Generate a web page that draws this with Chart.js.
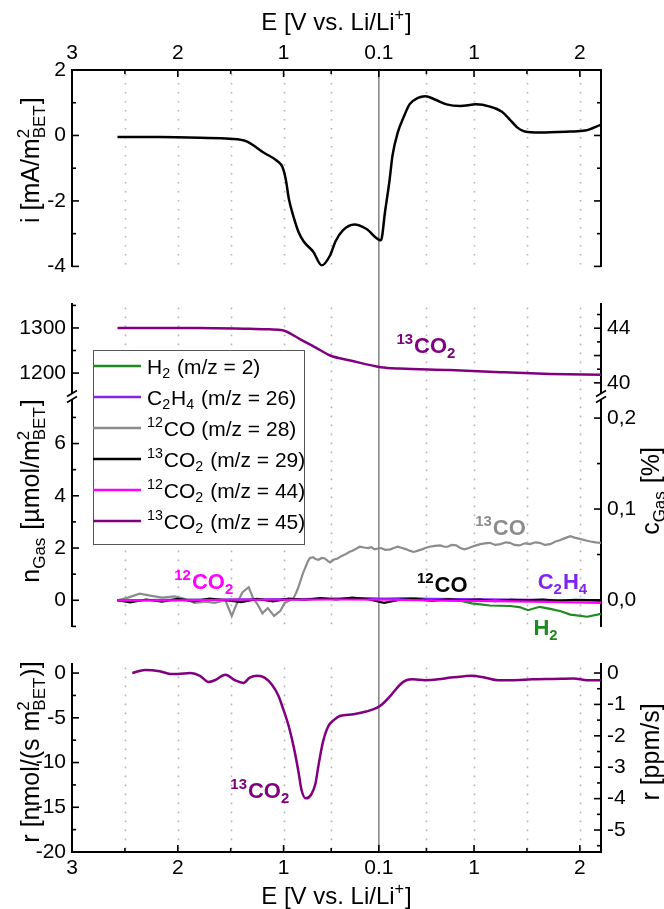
<!DOCTYPE html>
<html><head><meta charset="utf-8">
<script src="https://cdn.jsdelivr.net/npm/chart.js@4.4.1/dist/chart.umd.min.js"></script>
<style>
html,body{margin:0;padding:0;background:#fff;}
#wrap{position:relative;width:664px;height:909px;overflow:hidden;background:#fff;}
canvas{position:absolute;left:0;}
</style></head><body>
<div id="wrap">
<canvas id="c1" width="664" height="285" style="top:0px"></canvas>
<canvas id="c2" width="664" height="360" style="top:285px"></canvas>
<canvas id="c3" width="664" height="264" style="top:645px"></canvas>
</div>
<script>
// ---------------- DATA ----------------
// x axis: sweep coordinate (3 V -> 0.1 V -> 2.2 V), labelled with potential
const xTickPos = [0, 1, 2, 2.9, 3.8, 4.8];
const xTickLabels = ['3', '2', '1', '0.1', '1', '2'];
const xMinorPos = [0.5, 1.5, 2.45, 3.35, 4.3];
const xGridPos = [0.5, 1, 1.5, 2, 2.45, 3.35, 3.8, 4.3, 4.8];
const xVertex = 2.9;

// top panel: current density i [mA/m2]
const currentX = [0.43,0.83,1.21,1.49,1.65,1.81,1.94,1.99,2.02,2.05,2.10,2.14,2.19,2.28,2.36,2.44,2.49,2.56,2.67,2.78,2.92,2.96,3.00,3.03,3.08,3.14,3.19,3.27,3.34,3.43,3.54,3.67,3.82,3.95,4.06,4.14,4.21,4.28,4.42,4.71,4.85,5.00];
const currentY = [-0.05,-0.05,-0.07,-0.1,-0.18,-0.52,-0.78,-0.97,-1.33,-1.94,-2.55,-2.94,-3.24,-3.55,-3.97,-3.66,-3.24,-2.9,-2.72,-2.85,-3.2,-2.3,-1.4,-0.6,0.1,0.6,0.95,1.15,1.2,1.1,0.95,0.9,0.95,0.88,0.73,0.48,0.24,0.12,0.09,0.12,0.15,0.33];

// middle panel, upper part: 13CO2 (m/z 45) [umol/m2]
const co2m45X = [0.43,0.83,1.21,1.68,1.87,1.99,2.15,2.30,2.44,2.63,2.92,3.10,3.57,4.05,4.52,5.00];
const co2m45Y = [1300,1300,1300,1298,1297,1295,1276,1257,1239,1228,1213,1210,1207,1202,1198,1196];

// middle panel, lower part [umol/m2]
const co28X = [0.43,0.53,0.64,0.74,0.85,0.97,1.07,1.16,1.26,1.35,1.45,1.51,1.55,1.61,1.67,1.71,1.76,1.80,1.85,1.91,1.97,2.01,2.06,2.09,2.12,2.14,2.16,2.18,2.21,2.23,2.25,2.28,2.30,2.33,2.36,2.39,2.42,2.44,2.47,2.51,2.55,2.58,2.62,2.65,2.69,2.72,2.76,2.80,2.83,2.86,2.89,2.92,2.96,3.01,3.04,3.08,3.12,3.16,3.19,3.23,3.27,3.31,3.34,3.38,3.43,3.48,3.52,3.55,3.59,3.63,3.67,3.71,3.75,3.78,3.82,3.86,3.90,3.95,4.00,4.05,4.10,4.14,4.18,4.23,4.28,4.33,4.38,4.42,4.47,4.52,4.57,4.61,4.66,4.71,4.75,4.80,4.85,4.90,4.95,5.00];
const co28Y = [0,0.1,0.25,0.18,0.1,0.15,0.05,-0.1,-0.05,-0.1,0.0,-0.6,-0.2,0.3,0.5,0.1,-0.2,-0.5,-0.3,-0.6,-0.4,-0.1,0.0,0.05,0.3,0.5,0.75,1.0,1.3,1.5,1.62,1.65,1.58,1.55,1.62,1.6,1.5,1.45,1.55,1.6,1.7,1.75,1.85,1.9,1.98,2.05,2.02,2.0,2.03,1.95,1.98,2.0,1.93,1.95,2.0,2.05,2.0,1.95,1.9,1.85,1.9,1.95,2.0,2.05,2.08,2.1,2.05,2.05,2.12,2.1,2.0,1.95,2.0,2.05,2.1,2.15,2.18,2.2,2.12,2.15,2.22,2.2,2.12,2.1,2.18,2.15,2.22,2.2,2.12,2.15,2.25,2.3,2.38,2.45,2.4,2.35,2.3,2.25,2.22,2.2];
const h2X = [0.43,0.9,1.4,1.9,2.4,2.75,2.95,3.2,3.45,3.67,3.78,3.95,4.14,4.23,4.31,4.42,4.52,4.62,4.71,4.87,5.00];
const h2Y = [0,0.01,0.02,0.03,0.05,0.08,0.05,0.08,0.03,-0.02,-0.12,-0.2,-0.22,-0.26,-0.38,-0.25,-0.33,-0.42,-0.55,-0.63,-0.52];
const c2h4X = [0.43,0.9,1.4,1.9,2.4,2.9,3.4,3.9,4.4,4.8,5.00];
const c2h4Y = [0,0.02,0.03,0.04,0.05,0.05,0.05,0.04,0.02,0.0,-0.02];
const co2m29X = [0.43,0.55,0.7,0.85,1.0,1.15,1.3,1.45,1.6,1.75,1.9,2.05,2.2,2.35,2.5,2.65,2.8,2.95,3.1,3.25,3.4,3.55,3.7,3.85,4.0,4.15,4.3,4.45,4.6,4.75,4.9,5.0];
const co2m29Y = [0,-0.08,0.03,-0.05,0.05,-0.04,0.06,0,-0.07,0.05,-0.04,0.06,0.02,0.08,0.03,0.1,0.04,-0.1,0.02,0.05,-0.02,0.04,0,0.03,-0.03,0.02,0,0.03,-0.02,0.02,0.01,0];
const co2m44X = [0.43,1.0,1.5,2.0,2.5,3.0,3.5,4.0,4.5,5.0];
const co2m44Y = [0,0,0.02,0.02,0.03,0.02,-0.01,-0.03,-0.06,-0.1];

// bottom panel: rate r [nmol/(s m2)]
const rateX = [0.57,0.69,0.83,0.93,1.00,1.12,1.21,1.29,1.35,1.45,1.54,1.62,1.68,1.75,1.82,1.89,1.95,1.99,2.05,2.10,2.14,2.17,2.21,2.26,2.30,2.33,2.37,2.42,2.48,2.53,2.66,2.78,2.88,2.94,3.02,3.10,3.16,3.22,3.34,3.46,3.58,3.71,3.78,3.90,4.03,4.15,4.35,4.55,4.74,4.87,5.00];
const rateY = [0.0,0.35,0.2,-0.1,-0.1,0.0,-0.3,-1.0,-0.8,-0.2,-0.8,-1.1,-0.5,-0.3,-0.5,-1.3,-2.5,-3.8,-6.0,-8.5,-11.0,-13.1,-14.0,-13.6,-12.4,-10.3,-7.8,-6.0,-5.2,-4.8,-4.6,-4.3,-3.9,-3.4,-2.4,-1.3,-0.8,-0.7,-0.8,-0.7,-0.5,-0.35,-0.3,-0.5,-0.8,-0.8,-0.7,-0.65,-0.6,-0.8,-0.8];

// axis ticks
const iTicks = [-4,-2,0,2], iMinor = [-3,-1,1];
const nHiTicks = [1200,1300], nHiMinor = [1250,1350];
const cHiTicks = [40,42,44], cHiMinor = [41,43,45];
const nLoTicks = [0,2,4,6], nLoMinor = [-1,1,3,5,7];
const cLoTicks = [0,0.1,0.2], cLoMinor = [0.05,0.15];
const rTicks = [0,-5,-10,-15,-20], rMinor = [-2.5,-7.5,-12.5,-17.5];
const ppmTicks = [0,-1,-2,-3,-4,-5], ppmMinor = [-0.5,-1.5,-2.5,-3.5,-4.5,-5.5];

const seriesNames = ['H_{2} (m/z = 2)','C_{2}H_{4} (m/z = 26)','^{12}CO (m/z = 28)','^{13}CO_{2} (m/z = 29)','^{12}CO_{2} (m/z = 44)','^{13}CO_{2} (m/z = 45)'];
const seriesColors = ['#1f8a1f','#8024f0','#8c8c8c','#000000','#ff00ff','#800080'];

// ---------------- HELPERS ----------------
const FONT = "'Liberation Sans', Arial, sans-serif";
const NARROW = "'Liberation Sans Narrow', 'Liberation Sans', Arial, sans-serif";
const pts = (xs, ys) => xs.map((x, i) => ({x, y: ys[i]}));

function parseRich(str) {
  const toks = []; let i = 0, buf = '';
  while (i < str.length) {
    const c = str[i];
    if ((c === '^' || c === '_') && str[i+1] === '{') {
      if (buf) { toks.push({k:'n', t:buf}); buf=''; }
      const end = str.indexOf('}', i);
      toks.push({k: c === '^' ? 'sup' : 'sub', t: str.slice(i+2, end)});
      i = end + 1;
    } else { buf += c; i++; }
  }
  if (buf) toks.push({k:'n', t:buf});
  const out = [];
  for (let j = 0; j < toks.length; j++) {
    if (toks[j].k === 'sup' && toks[j+1] && toks[j+1].k === 'sub') {
      out.push({k:'stack', a:toks[j].t, b:toks[j+1].t}); j++;
    } else out.push(toks[j]);
  }
  return out;
}
function richWidth(ctx, toks, size, weight, fam) {
  let w = 0;
  for (const t of toks) {
    if (t.k === 'n') { ctx.font = `${weight} ${size}px ${fam}`; w += ctx.measureText(t.t).width; }
    else { ctx.font = `${weight} ${size*0.68}px ${fam}`;
      if (t.k === 'stack') w += Math.max(ctx.measureText(t.a).width, ctx.measureText(t.b).width) + 1;
      else w += ctx.measureText(t.t).width + 1; }
  }
  return w;
}
function drawRich(ctx, str, x, y, o) {
  const size = o.size || 20, weight = o.weight || 'normal', fam = o.family || FONT;
  const toks = parseRich(str);
  ctx.save();
  ctx.translate(x, y);
  if (o.rotate) ctx.rotate(o.rotate);
  ctx.fillStyle = o.color || '#000';
  ctx.textBaseline = 'alphabetic'; ctx.textAlign = 'left';
  const w = richWidth(ctx, toks, size, weight, fam);
  let cx = o.align === 'left' ? 0 : -w/2;
  const base = size * 0.36;
  for (const t of toks) {
    if (t.k === 'n') {
      ctx.font = `${weight} ${size}px ${fam}`;
      ctx.fillText(t.t, cx, base); cx += ctx.measureText(t.t).width;
    } else {
      const s = size*0.68; ctx.font = `${weight} ${s}px ${fam}`;
      if (t.k === 'sup') { ctx.fillText(t.t, cx, base - size*0.42); cx += ctx.measureText(t.t).width + 1; }
      else if (t.k === 'sub') { ctx.fillText(t.t, cx, base + size*0.22); cx += ctx.measureText(t.t).width + 1; }
      else { ctx.fillText(t.a, cx, base - size*0.42); ctx.fillText(t.b, cx, base + size*0.22);
        cx += Math.max(ctx.measureText(t.a).width, ctx.measureText(t.b).width) + 1; }
    }
  }
  ctx.restore();
}

function xScale(position, show, h) {
  return {
    type:'linear', position, min:0, max:5.0, display: show,
    afterBuildTicks: s => { s.ticks = xTickPos.map(v => ({value:v})); },
    afterFit: s => { s.height = h; },
    ticks: {autoSkip:false, maxRotation:0, minRotation:0, padding:4, color:'#000',
      font:{family:FONT, size:21}, callback:(v, i) => xTickLabels[i]},
    grid: {display:false, drawTicks:false},
    border: {display:true, width:2, color:'#000'}
  };
}
function yAxis(pos, min, max, labels, showLabels, fmt, extra) {
  return Object.assign({
    type:'linear', position:pos, min, max,
    afterBuildTicks: s => { s.ticks = labels.map(v => ({value:v})); },
    afterFit: s => { s.width = pos === 'left' ? 72 : 63; },
    ticks: {display: showLabels, padding:6, color:'#000', font:{family:FONT, size:21},
      callback: fmt || (v => String(v))},
    grid: {display:false, drawTicks:false},
    border: {display:true, width:2, color:'#000'}
  }, extra || {});
}
const comma = v => v.toFixed(1).replace('.', ',');

function drawTickMarks(ctx, scale, side, majors, minors, area) {
  ctx.save(); ctx.strokeStyle = '#000'; ctx.lineWidth = 1.6;
  const draw = (v, len) => {
    ctx.beginPath();
    if (side === 'left' || side === 'right') {
      const y = scale.getPixelForValue(v);
      const x0 = side === 'left' ? area.left : area.right;
      const d = side === 'left' ? len : -len;
      ctx.moveTo(x0, y); ctx.lineTo(x0 + d, y);
    } else {
      const x = scale.getPixelForValue(v);
      const y0 = side === 'top' ? area.top : area.bottom;
      const d = side === 'top' ? len : -len;
      ctx.moveTo(x, y0); ctx.lineTo(x, y0 + d);
    }
    ctx.stroke();
  };
  majors.forEach(v => draw(v, 7)); minors.forEach(v => draw(v, 4));
  ctx.restore();
}
function drawGrid(chart, fromTop, toBottom) {
  const {ctx, chartArea:a, scales:{x}} = chart;
  ctx.save();
  ctx.strokeStyle = '#b4b4b4'; ctx.lineWidth = 1.6; ctx.setLineDash([1.6, 7.4]);
  xGridPos.forEach(v => { const px = Math.round(x.getPixelForValue(v)) + 0.5;
    ctx.beginPath(); ctx.moveTo(px, a.top + 4); ctx.lineTo(px, a.bottom); ctx.stroke(); });
  ctx.setLineDash([]);
  ctx.strokeStyle = '#8a8a8a'; ctx.lineWidth = 1.6;
  const px = x.getPixelForValue(xVertex);
  ctx.beginPath(); ctx.moveTo(px, fromTop === undefined ? 0 : fromTop);
  ctx.lineTo(px, toBottom === undefined ? chart.height : toBottom); ctx.stroke();
  ctx.restore();
}
function drawBreak(ctx, x, y) {
  ctx.save();
  ctx.fillStyle = '#fff'; ctx.fillRect(x - 3, y - 2.5, 6, 5);
  ctx.strokeStyle = '#000'; ctx.lineWidth = 1.6;
  [-3, 3].forEach(d => { ctx.beginPath(); ctx.moveTo(x - 5, y + d + 3); ctx.lineTo(x + 5, y + d - 3); ctx.stroke(); });
  ctx.restore();
}

const baseOpts = (pad) => ({
  responsive:false, animation:false, devicePixelRatio:1,
  layout:{padding:pad, autoPadding:false},
  plugins:{legend:{display:false}, tooltip:{enabled:false}},
  elements:{point:{radius:0}}
});
const ANN = {size:22, weight:'bold', family:NARROW};

// ---------------- CHART 1 (current) ----------------
new Chart(document.getElementById('c1'), {
  type:'line',
  data:{datasets:[{data:pts(currentX, currentY), borderColor:'#000', borderWidth:2.5, cubicInterpolationMode:'monotone', yAxisID:'y'}]},
  options: Object.assign(baseOpts({left:0, right:0, top:0, bottom:17}), {
    scales:{
      x: xScale('top', true, 70),
      y: yAxis('left', -4, 2, iTicks, true),
      y2: yAxis('right', -4, 2, iTicks, false)
    }
  }),
  plugins:[{id:'p1',
    beforeDatasetsDraw(chart){ drawGrid(chart, chart.chartArea.top, chart.height); },
    afterDraw(chart){
      const {ctx, chartArea:a, scales} = chart;
      drawTickMarks(ctx, scales.y, 'left', iTicks, iMinor, a);
      drawTickMarks(ctx, scales.y2, 'right', iTicks, iMinor, a);
      drawTickMarks(ctx, scales.x, 'top', xTickPos, xMinorPos, a);
      drawRich(ctx, 'E [V vs. Li/Li^{+}]', (a.left + a.right)/2, 21, {size:24});
      drawRich(ctx, 'i [mA/m^{2}_{BET}]', 30, (a.top + a.bottom)/2 - 8, {size:25, rotate:-Math.PI/2});
    }}]
});

// ---------------- CHART 2 (gas amounts) ----------------
const C2TOP = 285;
const annotations2 = [
  {axis:'yU', x:3.35, y:1262, text:'^{13}CO_{2}', color:'#800080'},
  {axis:'yL', x:4.05, y:2.8, text:'^{13}CO', color:'#8c8c8c'},
  {axis:'yL', x:1.25, y:0.74, text:'^{12}CO_{2}', color:'#ff00ff'},
  {axis:'yL', x:3.5, y:0.63, text:'^{12}CO', color:'#000000'},
  {axis:'yL', x:4.64, y:0.74, text:'C_{2}H_{4}', color:'#8024f0'},
  {axis:'yL', x:4.48, y:-1.04, text:'H_{2}', color:'#1f8a1f'}
];
new Chart(document.getElementById('c2'), {
  type:'line',
  data:{datasets:[
    {label:seriesNames[0], data:pts(h2X, h2Y), borderColor:seriesColors[0], borderWidth:2.2, yAxisID:'yL', order:4},
    {label:seriesNames[1], data:pts(c2h4X, c2h4Y), borderColor:seriesColors[1], borderWidth:2.2, yAxisID:'yL', order:3},
    {label:seriesNames[2], data:pts(co28X, co28Y), borderColor:seriesColors[2], borderWidth:2.2, yAxisID:'yL', order:5},
    {label:seriesNames[3], data:pts(co2m29X, co2m29Y), borderColor:seriesColors[3], borderWidth:2.2, yAxisID:'yL', order:2},
    {label:seriesNames[4], data:pts(co2m44X, co2m44Y), borderColor:seriesColors[4], borderWidth:2.2, yAxisID:'yL', order:1},
    {label:seriesNames[5], data:pts(co2m45X, co2m45Y), borderColor:seriesColors[5], borderWidth:2.5, yAxisID:'yU', cubicInterpolationMode:'monotone', order:6}
  ]},
  options: Object.assign(baseOpts({left:0, right:0, top:17, bottom:13}), {
    scales:{
      x: xScale('bottom', false, 0),
      yU: yAxis('left', 1148, 1354, nHiTicks, true, null, {stack:'L', stackWeight:95, weight:1}),
      yL: yAxis('left', -1, 7.8, nLoTicks, true, null, {stack:'L', stackWeight:235, weight:0}),
      yU2: yAxis('right', 39.0, 45.8, cHiTicks, true, null, {stack:'R', stackWeight:95, weight:0}),
      yL2: yAxis('right', -0.029, 0.2237, cLoTicks, true, comma, {stack:'R', stackWeight:235, weight:1})
    }
  }),
  plugins:[{id:'p2',
    beforeDatasetsDraw(chart){ drawGrid(chart, 0, chart.height); },
    afterDraw(chart){
      const {ctx, chartArea:a, scales} = chart;
      drawTickMarks(ctx, scales.yU, 'left', nHiTicks, nHiMinor, a);
      drawTickMarks(ctx, scales.yL, 'left', nLoTicks, nLoMinor, a);
      drawTickMarks(ctx, scales.yU2, 'right', cHiTicks, cHiMinor, a);
      drawTickMarks(ctx, scales.yL2, 'right', cLoTicks, cLoMinor, a);
      const yb = scales.yL.top;
      drawBreak(ctx, a.left, yb); drawBreak(ctx, a.right, yb);
      annotations2.forEach(an => drawRich(ctx, an.text, scales.x.getPixelForValue(an.x), scales[an.axis].getPixelForValue(an.y), Object.assign({color:an.color}, ANN)));
      // legend
      const L = {x:93, y:350 - C2TOP, w:211, rowH:31, size:21};
      const h = L.rowH * seriesNames.length + 8;
      ctx.save();
      ctx.fillStyle = '#fff'; ctx.fillRect(L.x, L.y, L.w, h);
      ctx.strokeStyle = '#555'; ctx.lineWidth = 1; ctx.strokeRect(L.x + 0.5, L.y + 0.5, L.w, h);
      seriesNames.forEach((nm, i) => {
        const yy = L.y + 16 + i * L.rowH;
        ctx.strokeStyle = seriesColors[i]; ctx.lineWidth = 2.5;
        ctx.beginPath(); ctx.moveTo(L.x, yy); ctx.lineTo(L.x + 48, yy); ctx.stroke();
        drawRich(ctx, nm, L.x + 54, yy, {size:L.size, align:'left'});
      });
      ctx.restore();
      drawRich(ctx, 'n_{Gas} [\u00b5mol/m^{2}_{BET}]', 30, 491 - C2TOP, {size:25, rotate:-Math.PI/2});
      drawRich(ctx, 'c_{Gas} [%]', 650, 491 - C2TOP, {size:25, rotate:-Math.PI/2});
    }}]
});

// ---------------- CHART 3 (rate) ----------------
const C3TOP = 645;
const annotations3 = [{axis:'y', x:1.78, y:-13.1, text:'^{13}CO_{2}', color:'#800080'}];
new Chart(document.getElementById('c3'), {
  type:'line',
  data:{datasets:[{data:pts(rateX, rateY), borderColor:'#800080', borderWidth:2.5, cubicInterpolationMode:'monotone', yAxisID:'y'}]},
  options: Object.assign(baseOpts({left:0, right:0, top:8, bottom:0}), {
    scales:{
      x: xScale('bottom', true, 57),
      y: yAxis('left', -20, 1.06, rTicks, true),
      y2: yAxis('right', -5.7, 0.30, ppmTicks, true)
    }
  }),
  plugins:[{id:'p3',
    beforeDatasetsDraw(chart){ drawGrid(chart, 0, chart.chartArea.bottom); },
    afterDraw(chart){
      const {ctx, chartArea:a, scales} = chart;
      drawTickMarks(ctx, scales.y, 'left', rTicks, rMinor, a);
      drawTickMarks(ctx, scales.y2, 'right', ppmTicks, ppmMinor, a);
      drawTickMarks(ctx, scales.x, 'bottom', xTickPos, xMinorPos, a);
      annotations3.forEach(an => drawRich(ctx, an.text, scales.x.getPixelForValue(an.x), scales[an.axis].getPixelForValue(an.y), Object.assign({color:an.color}, ANN)));
      drawRich(ctx, 'r [nmol/(s m^{2}_{BET})]', 30, 752 - C3TOP, {size:25, rotate:-Math.PI/2});
      drawRich(ctx, 'r [ppm/s]', 650, 752 - C3TOP, {size:25, rotate:-Math.PI/2});
      drawRich(ctx, 'E [V vs. Li/Li^{+}]', (a.left + a.right)/2, 895 - C3TOP, {size:24});
    }}]
});
</script>
</body></html>
